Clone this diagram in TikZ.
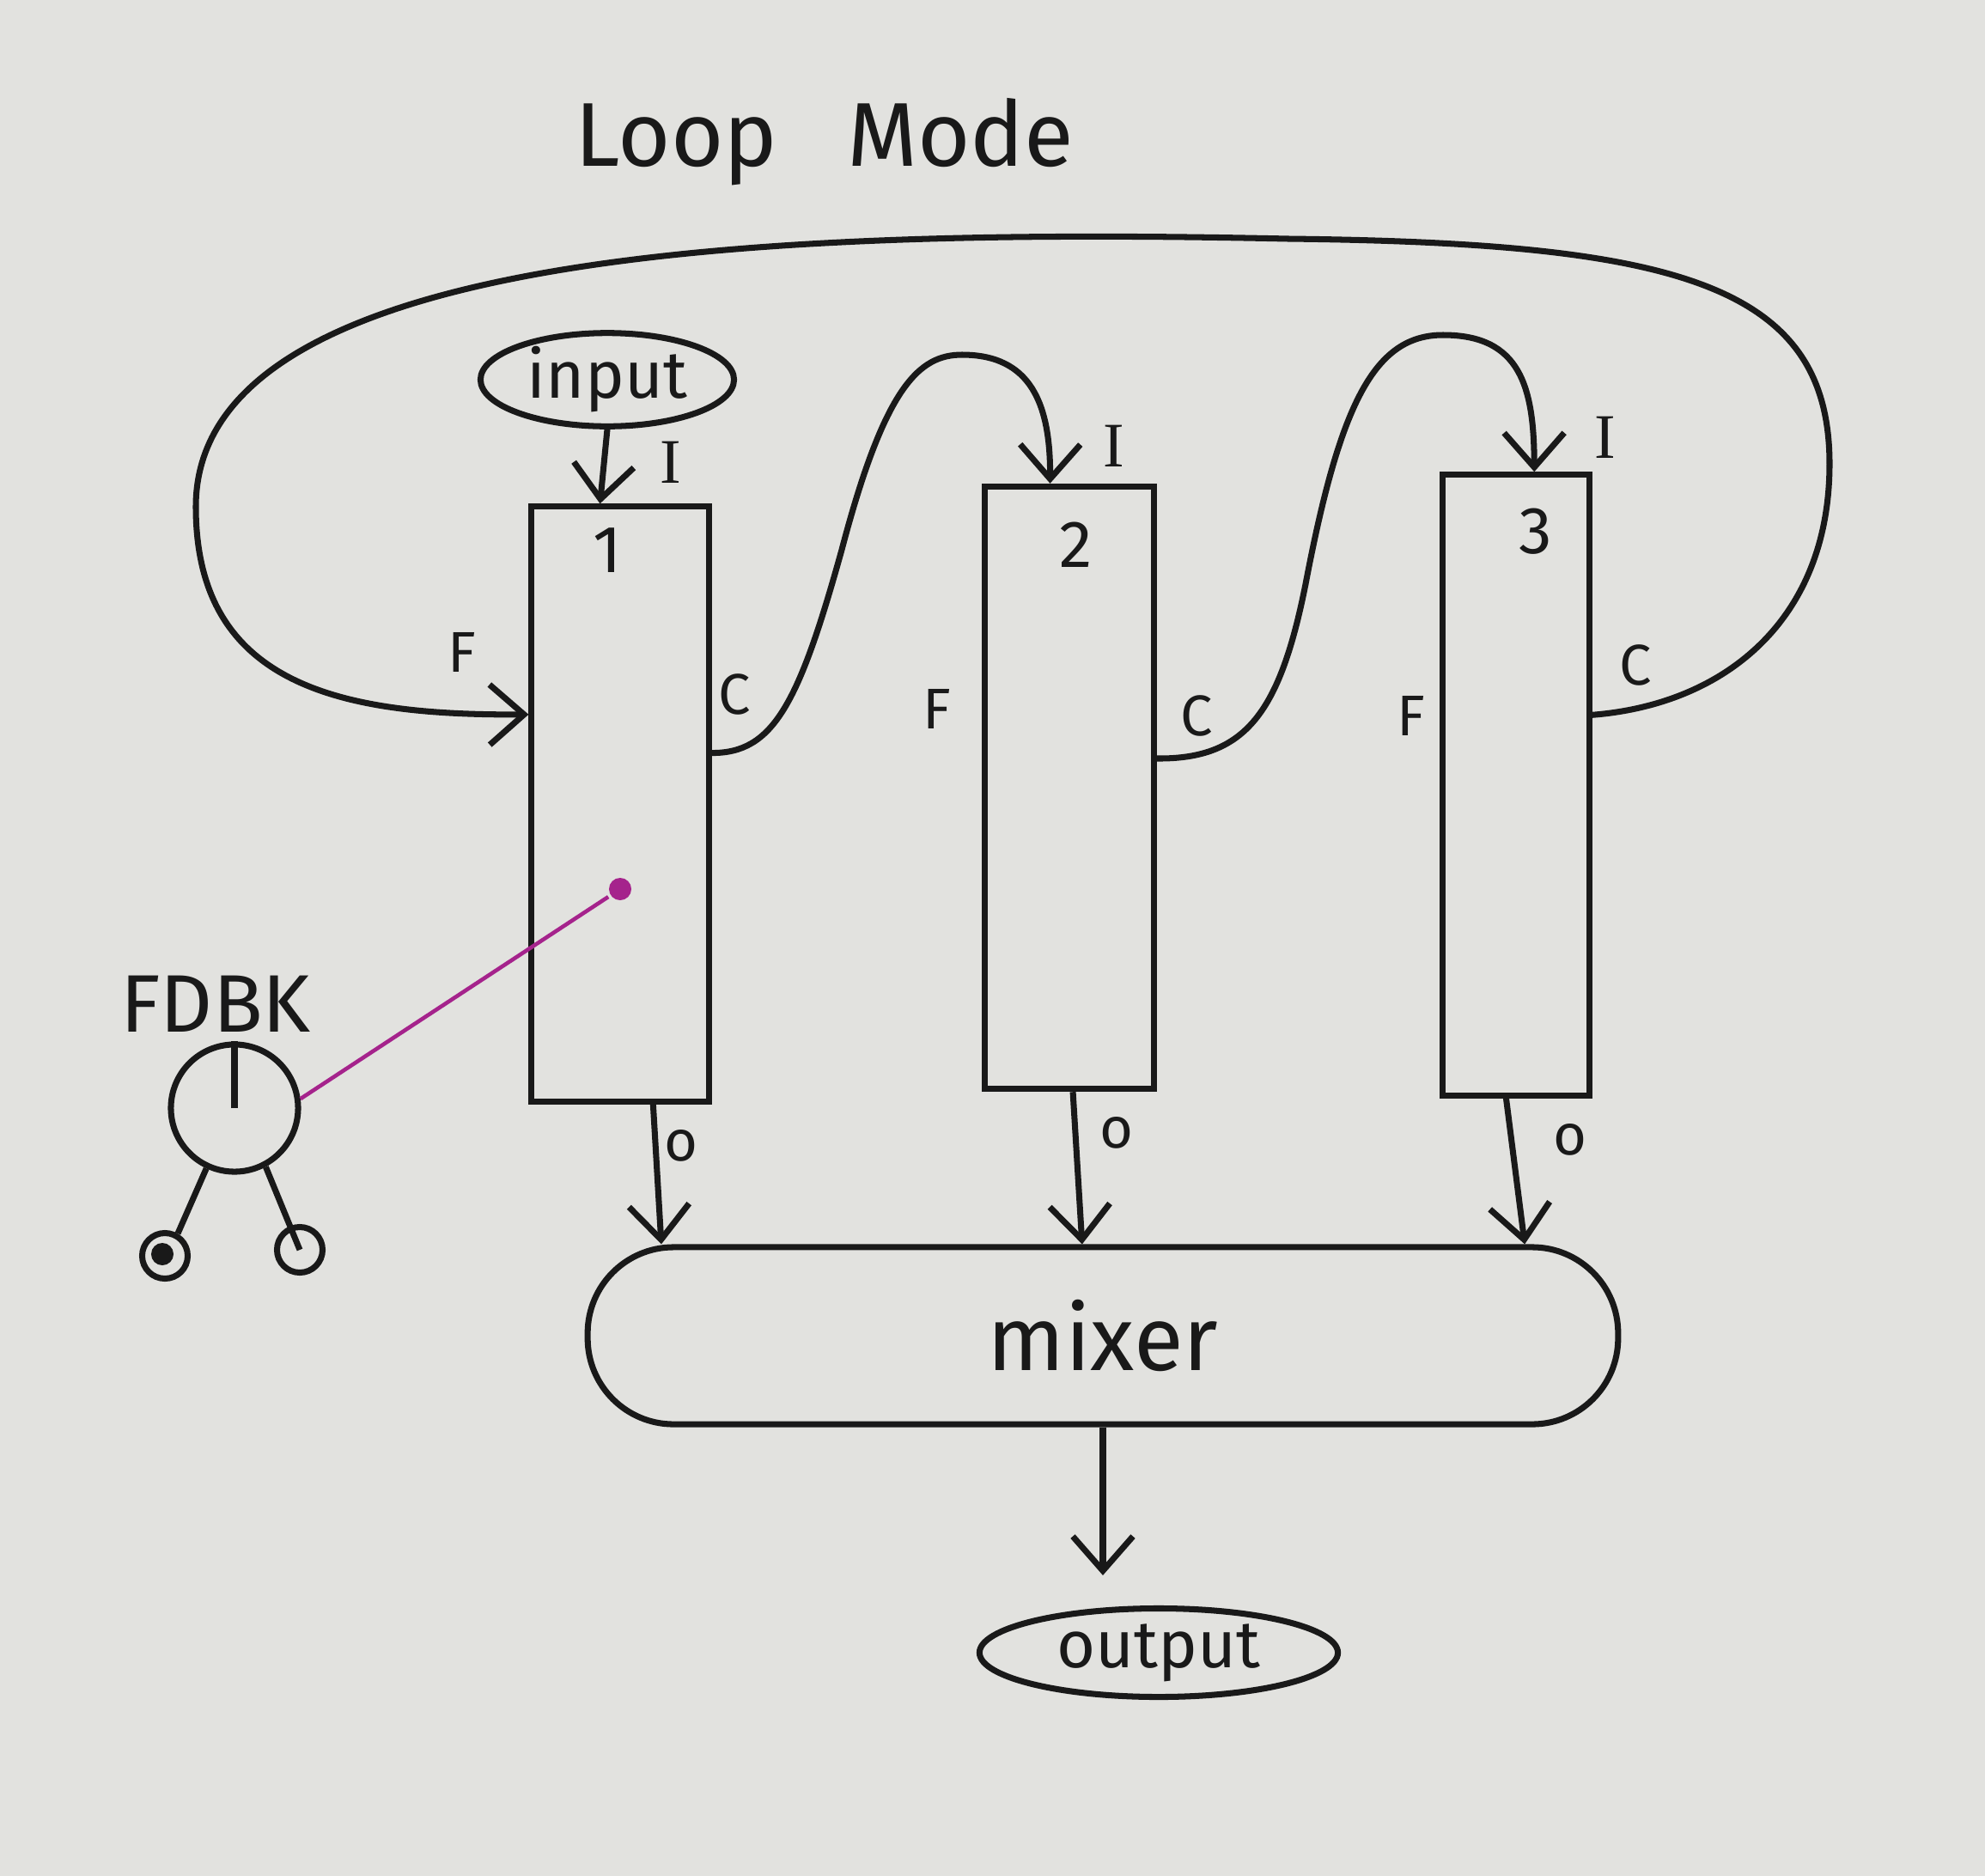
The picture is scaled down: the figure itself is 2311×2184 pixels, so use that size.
\documentclass[tikz,border=0pt]{standalone}
\usepackage{fontspec}
\setmainfont{Fira Sans}
\newfontfamily\serifI{Liberation Serif}
\usetikzlibrary{arrows.meta,calc,shapes.geometric}
\definecolor{paper}{RGB}{226,226,223}
\definecolor{ink}{RGB}{25,25,25}
\definecolor{pinkline}{RGB}{165,35,140}
\begin{document}
\begin{tikzpicture}[x=0.01cm,y=-0.01cm,line width=2pt,
  every node/.style={text=ink},
  box/.style={draw=ink, rectangle, inner sep=0pt},
  pill/.style={draw=ink, ellipse, inner sep=0pt, font=\fontsize{22}{26}\selectfont},
  lbl/.style={font=\fontsize{19}{22}\selectfont},
  ilbl/.style={font=\serifI\fontsize{21}{24}\selectfont},
  num/.style={font=\fontsize{22}{26}\selectfont},
  arr/.style={draw=ink, -{Straight Barb[length=4mm,width=7mm]}},
  wire/.style={draw=ink},
]
\fill[paper] (0,0) rectangle (2311,2184);
\useasboundingbox (0,0) rectangle (2311,2184);

\node[font=\fontsize{30}{36}\selectfont] (title) at (960,165) {Loop\enspace\ Mode};

% boxes
\node[box, minimum width=2.06cm, minimum height=6.92cm] (b1) at (722,936) {};
\node[box, minimum width=1.97cm, minimum height=7.01cm] (b2) at (1245,917) {};
\node[box, minimum width=1.70cm, minimum height=7.22cm] (b3) at (1765,914) {};

\node[num] (n1) at (707,641) {1};
\node[num] (n2) at (1253,634) {2};
\node[num] (n3) at (1788,619) {3};

\node[ilbl] (i1) at (781,538) {I};
\node[ilbl] (i2) at (1297,519) {I};
\node[ilbl] (i3) at (1869,509) {I};
\node[lbl] (f1) at (538,759) {F};
\node[lbl] (f2) at (1091,825) {F};
\node[lbl] (f3) at (1643,833) {F};
\node[lbl] (c1) at (855,808) {C};
\node[lbl] (c2) at (1393,833) {C};
\node[lbl] (c3) at (1904,774) {C};
\node[lbl] (o1) at (793,1334) {o};
\node[lbl] (o2) at (1300,1319) {o};
\node[lbl] (o3) at (1828,1327) {o};

% input / mixer / output
\node[pill, minimum width=2.95cm, minimum height=1.03cm] (input) at (707,442) {input};
\node[draw=ink, rectangle, rounded corners=1cm, minimum width=11.99cm, minimum height=2.06cm,
      font=\fontsize{30}{36}\selectfont] (mixer) at (1284,1555) {mixer};
\node[pill, minimum width=4.17cm, minimum height=1.03cm] (output) at (1349,1924) {output};

% input arrow
\draw[arr] (input.south) -- ($(b1.north west)!0.39!(b1.north east)$);

% C1 -> I2
\draw[arr] ($(b1.north east)!0.415!(b1.south east)$)
  .. controls (900,877) and (930,820) .. (980,640)
  .. controls (1030,450) and (1070,413) .. (1120,413)
  .. controls (1200,413) and (1223,470) .. ($(b2.north west)!0.39!(b2.north east)$);

% C2 -> I3
\draw[arr] ($(b2.north east)!0.452!(b2.south east)$)
  .. controls (1450,884) and (1490,830) .. (1520,680)
  .. controls (1560,470) and (1600,390) .. (1680,390)
  .. controls (1770,390) and (1786,450) .. ($(b3.north west)!0.62!(b3.north east)$);

% C3 -> F1 feedback loop
\draw[arr] ($(b3.north east)!0.388!(b3.south east)$)
  .. controls (2010,820) and (2130,720) .. (2130,540)
  .. controls (2130,330) and (1950,283) .. (1500,278)
  .. controls (900,265) and (228,290) .. (228,590)
  .. controls (228,800) and (400,833) .. ($(b1.north west)!0.351!(b1.south west)$);

% outputs to mixer
\draw[arr] ($(b1.south west)!0.68!(b1.south east)$) -- ($(mixer.north west)!0.074!(mixer.north east)$);
\draw[arr] ($(b2.south west)!0.52!(b2.south east)$) -- ($(mixer.north west)!0.48!(mixer.north east)$);
\draw[arr] ($(b3.south west)!0.435!(b3.south east)$) -- ($(mixer.north west)!0.907!(mixer.north east)$);

% mixer to output
\draw[arr, shorten >=0.35cm] (mixer.south) -- (mixer.south |- output.north);

% FDBK knob
\node[font=\fontsize{27}{32}\selectfont] (fdbk) at (251,1169) {FDBK};
\node[draw=ink, circle, minimum size=1.48cm, inner sep=0pt] (knob) at (273,1290) {};
\node[draw=ink, circle, minimum size=0.53cm, inner sep=0pt] (kl) at (192,1462) {};
\node[draw=ink, circle, minimum size=0.53cm, inner sep=0pt] (kr) at (349,1455) {};
\node[circle, fill=ink, minimum size=0.26cm, inner sep=0pt] (kdot) at ($(kl.center)+(-3,-2)$) {};
\draw[wire] (knob.center) -- (knob.north);
\draw[wire] (knob.-115) -- (kl.60);
\draw[wire] (knob.-62) -- (kr.center);

% magenta link
\node[circle, fill=pinkline, minimum size=0.26cm, inner sep=0pt] (pdot) at (722,1035) {};
\draw[draw=pinkline, line width=1.3pt] (knob.8) -- (pdot);
\end{tikzpicture}
\end{document}
